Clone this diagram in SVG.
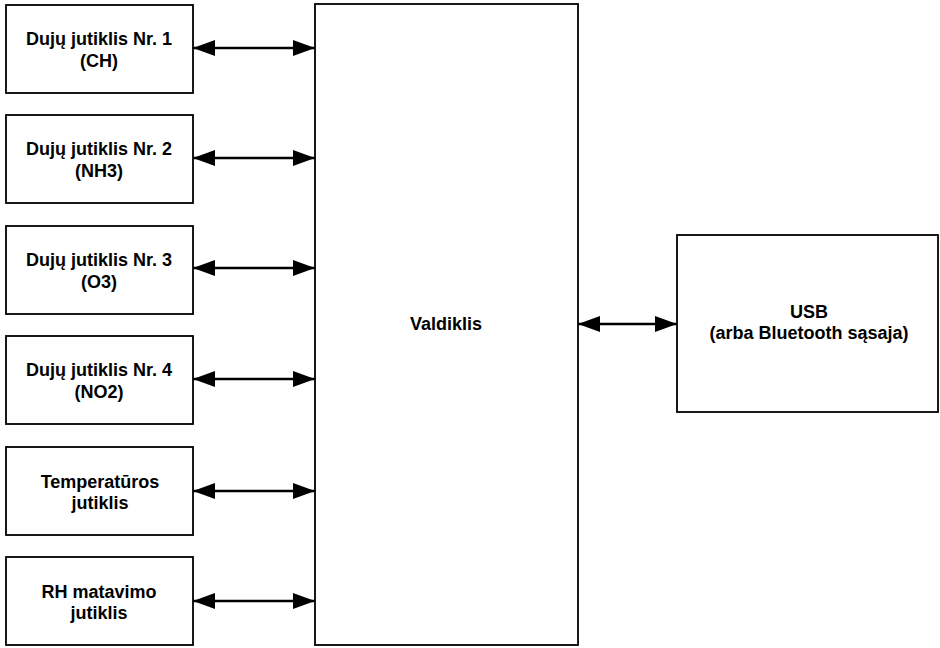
<svg xmlns="http://www.w3.org/2000/svg" width="940" height="648" viewBox="0 0 940 648">
<style>
.box{fill:#fff;stroke:#000;stroke-width:1.8}
.t{font-family:"Liberation Sans",Arial,sans-serif;font-size:18px;font-weight:bold;fill:#000;text-anchor:middle}
.c{stroke:#000;stroke-width:2.6;fill:none}
</style>
<defs>
<marker id="ah" markerUnits="userSpaceOnUse" markerWidth="24" markerHeight="18" refX="22" refY="8" orient="auto-start-reverse">
<path d="M0,0 L22,8 L0,16 Z" fill="#000"/>
</marker>
</defs>
<rect width="940" height="648" fill="#fff"/>
<g id="n1"><rect class="box" x="6" y="5" width="187" height="88"/><text class="t" x="99" y="45">Dujų jutiklis Nr. 1</text><text class="t" x="99" y="67">(CH)</text></g>
<g id="n2"><rect class="box" x="6" y="115" width="187" height="88"/><text class="t" x="99" y="155">Dujų jutiklis Nr. 2</text><text class="t" x="99" y="177">(NH3)</text></g>
<g id="n3"><rect class="box" x="6" y="226" width="187" height="88"/><text class="t" x="99" y="266">Dujų jutiklis Nr. 3</text><text class="t" x="99" y="288">(O3)</text></g>
<g id="n4"><rect class="box" x="6" y="336" width="187" height="88"/><text class="t" x="99" y="376">Dujų jutiklis Nr. 4</text><text class="t" x="99" y="398">(NO2)</text></g>
<g id="n5"><rect class="box" x="6" y="447" width="187" height="88"/><text class="t" x="100" y="488">Temperatūros</text><text class="t" x="100" y="509">jutiklis</text></g>
<g id="n6"><rect class="box" x="6" y="557" width="187" height="88"/><text class="t" x="99" y="598">RH matavimo</text><text class="t" x="99" y="619">jutiklis</text></g>
<g id="valdiklis"><rect class="box" x="315" y="4" width="263" height="641"/><text class="t" x="446" y="330">Valdiklis</text></g>
<g id="usb"><rect class="box" x="677" y="235" width="261" height="177"/><text class="t" x="809" y="318">USB</text><text class="t" x="809" y="339">(arba Bluetooth sąsaja)</text></g>
<g id="connectors">
<line class="c" x1="193" y1="48" x2="315" y2="48" marker-start="url(#ah)" marker-end="url(#ah)"/>
<line class="c" x1="193" y1="158" x2="315" y2="158" marker-start="url(#ah)" marker-end="url(#ah)"/>
<line class="c" x1="193" y1="268" x2="315" y2="268" marker-start="url(#ah)" marker-end="url(#ah)"/>
<line class="c" x1="193" y1="379" x2="315" y2="379" marker-start="url(#ah)" marker-end="url(#ah)"/>
<line class="c" x1="193" y1="491" x2="315" y2="491" marker-start="url(#ah)" marker-end="url(#ah)"/>
<line class="c" x1="193" y1="601" x2="315" y2="601" marker-start="url(#ah)" marker-end="url(#ah)"/>
<line class="c" x1="578" y1="324" x2="677" y2="324" marker-start="url(#ah)" marker-end="url(#ah)"/>
</g>
</svg>
